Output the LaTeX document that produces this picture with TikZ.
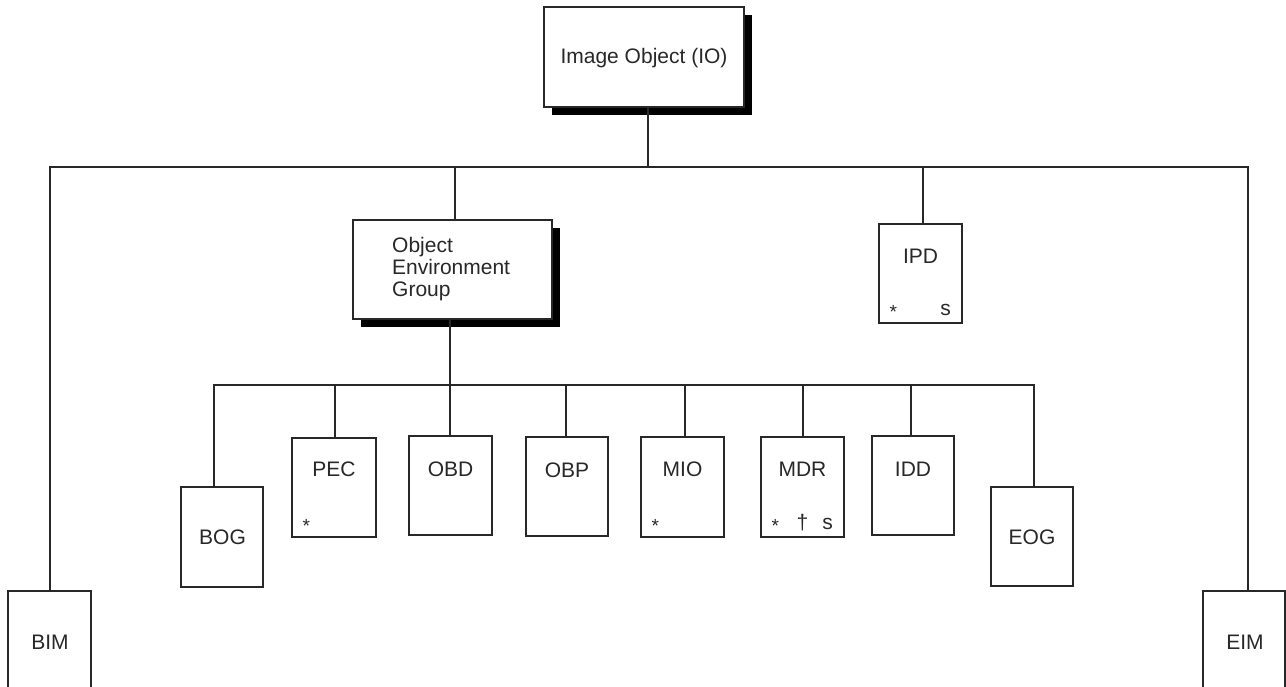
\documentclass[tikz,border=0pt]{standalone}
\usepackage{fontspec}
\setmainfont{Liberation Sans}
\usetikzlibrary{shadows}
\definecolor{ink}{RGB}{40,40,40}
\tikzset{
  box/.style={draw=ink, line width=1.3pt, fill=white, rectangle, inner sep=0pt},
  shadowbox/.style={box, general shadow={fill=black, shadow xshift=8pt, shadow yshift=-8pt}},
  lbl/.style={inner sep=0pt, font=\fontsize{21}{22}\selectfont, text=ink},
  markch/.style={inner sep=0pt, font=\fontsize{21}{22}\selectfont, text=ink},
  starch/.style={inner sep=0pt, font=\fontsize{19}{20}\selectfont, text=ink},
  conn/.style={draw=ink, line width=1.3pt}
}
\begin{document}
\begin{tikzpicture}[x=1pt,y=-1pt]
\useasboundingbox (0,0) rectangle (1286,687);
\clip (0,0) rectangle (1286,687);
% top node
\node[shadowbox, minimum width=200pt, minimum height=100pt] (io) at (644,57) {};
\node[lbl] (iot) at (644,58) {Image Object (IO)};
% first level
\node[shadowbox, minimum width=199pt, minimum height=99pt] (oeg) at (452.5,269.5) {};
\node[lbl, anchor=west, align=left] (oegt) at (392,269) {Object\\Environment\\Group};
\node[box, minimum width=83pt, minimum height=99pt] (ipd) at (920.5,273.5) {};
\node[lbl] (ipdt) at ([yshift=-33pt]ipd.north) {IPD};
\node[starch] (ipds1) at ([xshift=15pt,yshift=12pt]ipd.south west) {*};
\node[markch] (ipds2) at ([xshift=-17pt,yshift=14pt]ipd.south east) {s};
\node[box, minimum width=83pt, minimum height=140pt] (bim) at (49.5,661) {};
\node[lbl] (bimt) at (50,642) {BIM};
\node[box, minimum width=82pt, minimum height=140pt] (eim) at (1244,661) {};
\node[lbl] (eimt) at (1245,642) {EIM};
% second level
\node[box, minimum width=82pt, minimum height=100pt] (bog) at (222,537) {};
\node[lbl] (bogt) at (222.5,537) {BOG};
\node[box, minimum width=84pt, minimum height=99pt] (pec) at (334,487.5) {};
\node[lbl] (pect) at ([yshift=-32pt]pec.north) {PEC};
\node[starch] (pecs) at ([xshift=15pt,yshift=12pt]pec.south west) {*};
\node[box, minimum width=83pt, minimum height=99pt] (obd) at (450.5,485.5) {};
\node[lbl] (obdt) at ([yshift=-34pt]obd.north) {OBD};
\node[box, minimum width=82pt, minimum height=99pt] (obp) at (567,486.5) {};
\node[lbl] (obpt) at ([yshift=-34pt]obp.north) {OBP};
\node[box, minimum width=83pt, minimum height=100pt] (mio) at (682.5,487) {};
\node[lbl] (miot) at ([yshift=-33pt]mio.north) {MIO};
\node[starch] (mios) at ([xshift=15pt,yshift=12pt]mio.south west) {*};
\node[box, minimum width=83pt, minimum height=100pt] (mdr) at (802.5,487) {};
\node[lbl] (mdrt) at ([yshift=-33pt]mdr.north) {MDR};
\node[starch] (mdrs1) at ([xshift=15pt,yshift=12pt]mdr.south west) {*};
\node[markch] (mdrs2) at ([yshift=15pt]mdr.south) {†};
\node[markch] (mdrs3) at ([xshift=-17pt,yshift=14pt]mdr.south east) {s};
\node[box, minimum width=82pt, minimum height=99pt] (idd) at (913,485.5) {};
\node[lbl] (iddt) at ([yshift=-34pt]idd.north) {IDD};
\node[box, minimum width=82pt, minimum height=99pt] (eog) at (1032,536.5) {};
\node[lbl] (eogt) at (1032,537) {EOG};
% junctions
\coordinate (ja) at (648,167);
\coordinate (jl) at (50,167);
\coordinate (jr) at (1248,167);
\coordinate (jo) at (455,167);
\coordinate (ji) at (923,167);
\coordinate (kb) at (450,385);
\coordinate (k1) at (214,385);
\coordinate (k2) at (335,385);
\coordinate (k3) at (450,385);
\coordinate (k4) at (566,385);
\coordinate (k5) at (685,385);
\coordinate (k6) at (803,385);
\coordinate (k7) at (911,385);
\coordinate (k8) at (1034,385);
% connectors
\draw[conn] (io.south -| ja) -- (ja);
\draw[conn] (bim.north -| jl) -- (jl) -- (jr) -- (eim.north -| jr);
\draw[conn] (jo) -- (oeg.north -| jo);
\draw[conn] (ji) -- (ipd.north -| ji);
\draw[conn] (oeg.south -| kb) -- (kb);
\draw[conn] (bog.north -| k1) -- (k1) -- (k8) -- (eog.north -| k8);
\draw[conn] (k2) -- (pec.north -| k2);
\draw[conn] (k3) -- (obd.north -| k3);
\draw[conn] (k4) -- (obp.north -| k4);
\draw[conn] (k5) -- (mio.north -| k5);
\draw[conn] (k6) -- (mdr.north -| k6);
\draw[conn] (k7) -- (idd.north -| k7);
\end{tikzpicture}
\end{document}
